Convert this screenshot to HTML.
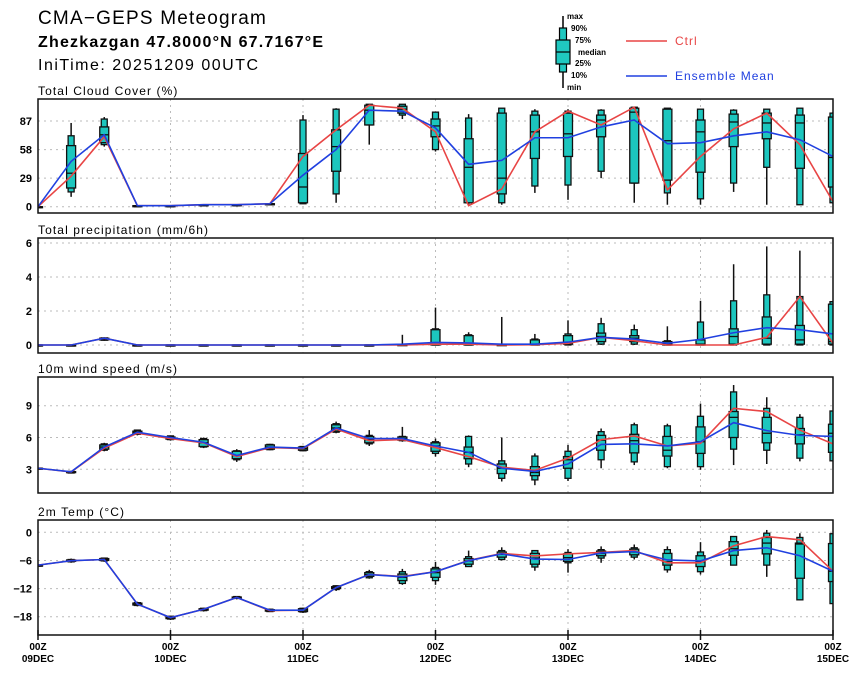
<!DOCTYPE html>
<html><head><meta charset="utf-8"><style>
body{margin:0;background:#fff;width:860px;height:673px;overflow:hidden}
svg{display:block;font-family:"Liberation Sans",sans-serif}
</style></head><body>
<svg id="chart" width="860" height="673">
<text x="38" y="24" font-size="19" letter-spacing="1.2">CMA−GEPS Meteogram</text>
<text x="38" y="47" font-size="16" font-weight="bold" letter-spacing="1.2">Zhezkazgan 47.8000°N 67.7167°E</text>
<text x="38" y="70" font-size="16" letter-spacing="1.5">IniTime: 20251209 00UTC</text>
<g font-size="8" font-weight="bold">
<line x1="563" y1="16" x2="563" y2="88" stroke="#000" stroke-width="1.5"/>
<rect x="559.5" y="28" width="7" height="44" fill="#20c8c0" stroke="#000" stroke-width="1.2"/>
<rect x="556" y="40" width="14" height="24" fill="#20c8c0" stroke="#000" stroke-width="1.2"/>
<line x1="556" y1="52" x2="570" y2="52" stroke="#000" stroke-width="1.2"/>
<text x="567" y="19">max</text><text x="571" y="31">90%</text><text x="575" y="43">75%</text>
<text x="578" y="55">median</text><text x="575" y="66">25%</text><text x="571" y="78">10%</text><text x="567" y="90">min</text>
</g>
<g><line x1="626" y1="41" x2="667" y2="41" stroke="#e84545" stroke-width="1.5"/><text x="675" y="45" font-size="12" letter-spacing="1" fill="#e84545">Ctrl</text></g>
<g><line x1="626" y1="76" x2="667" y2="76" stroke="#2040e0" stroke-width="1.5"/><text x="675" y="80" font-size="12" letter-spacing="1" fill="#2040e0">Ensemble Mean</text></g>
</svg>
<script>
const times=[...Array(25).keys()];
const dayLabels=["09DEC","10DEC","11DEC","12DEC","13DEC","14DEC","15DEC"];
const cloudMax=[0,85,91,1,1,2,2,3,93,100,104,104,96,94,100,99,99,99,101,100,99,99,99,100,96];
const cloudP90=[0,72,89,1,1,2,2,3,88,99,104,104,96,90,100,97,97,98,101,100,99,98,99,100,95];
const cloudP75=[0,62,81,1,1,2,2,3,54,78,103,102,89,69,95,93,95,93,100,99,88,94,95,93,91];
const cloudMed=[0,34,73,1,1,2,2,3,20,61,98,99,82,40,29,76,74,88,96,67,76,86,85,85,50];
const cloudP25=[0,19,65,1,1,2,2,3,4,36,83,95,71,4,13,49,51,71,24,27,35,61,69,39,20];
const cloudP10=[0,15,63,1,1,2,2,3,3,13,83,93,58,4,4,21,22,36,24,14,8,24,40,2,4];
const cloudMin=[0,10,61,1,1,2,2,3,3,4,63,89,56,2,2,14,7,29,4,2,2,15,2,2,3];
const cloudCtrl=[0,31,71,1,1,2,2,3,51,78,103,100,76,1,18,76,97,83,101,17,51,79,95,63,5];
const cloudMean=[0,46,73,1,1,2,2,3,32,58,98,97,80,43,47,70,70,81,88,64,65,72,76,68,51];
const precMax=[0,0,0.45,0,0,0,0,0,0,0,0,0.6,2.2,0.75,1.65,0.65,1.45,1.6,1.2,1.1,2.6,4.75,5.8,5.55,2.55];
const precP90=[0,0,0.42,0,0,0,0,0,0,0,0,0.05,0.95,0.6,0.05,0.35,0.65,1.25,0.9,0.25,1.35,2.6,2.95,2.85,2.55];
const precP75=[0,0,0.4,0,0,0,0,0,0,0,0,0.02,0.9,0.55,0.02,0.3,0.55,0.7,0.55,0.2,0.3,0.95,1.65,1.15,2.4];
const precMed=[0,0,0.35,0,0,0,0,0,0,0,0,0,0.05,0.05,0,0.05,0.15,0.5,0.4,0.05,0.05,0.5,0.4,0.3,0.2];
const precP25=[0,0,0.3,0,0,0,0,0,0,0,0,0,0,0,0,0,0.05,0.2,0.2,0,0,0.05,0.05,0.05,0.05];
const precP10=[0,0,0.28,0,0,0,0,0,0,0,0,0,0,0,0,0,0,0.05,0.05,0,0,0,0,0,0];
const precMin=[0,0,0.25,0,0,0,0,0,0,0,0,0,0,0,0,0,0,0,0,0,0,0,0,0,0];
const precCtrl=[0,0,0.4,0,0,0,0,0,0,0,0,0,0.05,0.05,0,0.02,0.1,0.45,0.25,0,0,0,0.45,2.85,0.1];
const precMean=[0,0,0.4,0,0,0,0,0,0,0,0,0.05,0.15,0.12,0.05,0.05,0.17,0.45,0.35,0.1,0.33,0.72,1.02,0.9,0.65];
const windMax=[3.15,2.85,5.5,6.75,6.2,6.0,4.9,5.4,5.2,7.5,6.7,7.0,5.9,6.2,6.0,4.5,5.3,6.85,7.4,7.3,9.2,10.95,9.8,8.2,8.5];
const windP90=[3.12,2.8,5.4,6.7,6.15,5.9,4.75,5.35,5.15,7.3,6.2,6.1,5.6,6.1,3.8,4.25,4.7,6.55,7.2,7.1,8.0,10.3,8.75,7.9,8.5];
const windP75=[3.1,2.78,5.3,6.6,6.05,5.8,4.7,5.3,5.1,7.2,6.1,6.05,5.5,5.1,3.5,3.25,4.2,6.2,6.3,6.1,7.0,8.45,7.9,6.85,7.25];
const windMed=[3.1,2.75,5.1,6.5,5.95,5.5,4.3,5.1,4.95,6.9,5.8,5.9,5.2,4.6,3.1,2.7,3.9,5.75,5.7,4.8,5.6,7.9,6.4,6.25,6.4];
const windP25=[3.08,2.7,4.9,6.35,5.85,5.15,4.0,4.9,4.8,6.6,5.5,5.75,4.7,4.0,2.6,2.4,3.1,4.8,4.55,4.25,4.5,6.0,5.5,5.4,4.6];
const windP10=[3.05,2.65,4.8,6.3,5.8,5.1,3.9,4.85,4.75,6.5,5.4,5.7,4.5,3.5,2.15,2.0,2.15,3.9,3.7,3.25,3.25,4.9,4.8,4.05,3.8];
const windMin=[3.0,2.6,4.7,6.2,5.7,5.0,3.7,4.8,4.7,6.4,5.2,5.6,4.2,3.2,1.85,1.5,1.9,3.1,3.4,3.1,2.95,3.4,3.5,3.75,3.8];
const windCtrl=[3.1,2.75,5.0,6.4,5.9,5.5,4.2,5.05,4.95,6.8,5.7,5.8,5.05,4.2,3.2,2.9,4.05,5.8,6.15,5.2,5.45,8.75,8.45,6.7,5.4];
const windMean=[3.1,2.77,5.1,6.5,6.0,5.55,4.3,5.1,5.0,6.9,5.9,5.9,5.2,4.6,3.1,2.8,3.5,5.35,5.4,5.2,5.6,7.4,6.65,6.2,6.1];
const tempMax=[-7,-5.6,-5.4,-14.8,-17.8,-16.1,-13.6,-16.3,-16.1,-11.3,-8.0,-7.8,-6.3,-3.9,-3.2,-3.9,-3.6,-3.0,-2.6,-3.0,-2.1,-0.8,0.5,-0.2,-0.3];
const tempP90=[-7,-5.8,-5.5,-15.0,-17.9,-16.2,-13.7,-16.4,-16.2,-11.4,-8.4,-8.4,-7.5,-5.2,-3.9,-3.9,-4.3,-3.7,-3.3,-3.7,-4.2,-0.9,-0.2,-1.1,-0.3];
const tempP75=[-7,-5.9,-5.6,-15.1,-18.0,-16.3,-13.8,-16.5,-16.3,-11.6,-8.6,-8.9,-7.8,-5.6,-4.2,-4.5,-4.6,-4.0,-3.6,-4.5,-5.0,-2.0,-1.1,-2.3,-2.4];
const tempMed=[-7,-6.05,-5.8,-15.3,-18.2,-16.4,-13.9,-16.6,-16.6,-11.8,-9.0,-9.6,-8.6,-6.1,-4.7,-5.5,-5.4,-4.5,-4.2,-6.3,-6.3,-3.5,-2.3,-2.5,-8.3];
const tempP25=[-7,-6.2,-6.0,-15.5,-18.4,-16.6,-14.0,-16.8,-16.9,-12.0,-9.4,-10.3,-9.6,-6.8,-5.3,-6.8,-6.2,-5.0,-4.8,-7.0,-7.3,-4.9,-4.6,-9.8,-10.5];
const tempP10=[-7,-6.3,-6.1,-15.6,-18.5,-16.7,-14.1,-16.9,-17.0,-12.2,-9.7,-10.9,-10.3,-7.3,-5.8,-7.4,-6.5,-5.5,-5.3,-8.0,-8.4,-7.0,-7.0,-14.4,-15.2];
const tempMin=[-7,-6.5,-6.3,-15.8,-18.7,-16.9,-14.3,-17.0,-17.2,-12.5,-9.9,-11.2,-11.2,-7.3,-6.0,-8.2,-8.6,-6.5,-5.8,-8.6,-9.0,-7.0,-9.5,-14.5,-15.2];
const tempCtrl=[-7.0,-6.05,-5.8,-15.3,-18.2,-16.4,-13.9,-16.7,-16.6,-11.8,-9.0,-9.4,-8.4,-6.0,-4.5,-5.05,-4.6,-4.3,-3.9,-6.5,-6.5,-2.9,-0.9,-1.6,-8.3];
const tempMean=[-7.0,-6.05,-5.8,-15.3,-18.2,-16.4,-13.9,-16.6,-16.6,-11.8,-9.0,-9.5,-8.4,-6.05,-4.6,-5.7,-5.8,-4.4,-4.1,-5.9,-6.1,-3.9,-3.3,-5.0,-8.3];
const cloudTicks=[0,29,58,87], precTicks=[0,2,4,6], windTicks=[3,6,9], tempTicks=[0,-6,-12,-18];

const NS="http://www.w3.org/2000/svg";
const svg=document.getElementById("chart");
const X0=38,X1=833;
const xs=i=>X0+(X1-X0)*i/24;
function mk(tag,attrs,parent){const e=document.createElementNS(NS,tag);for(const k in attrs)e.setAttribute(k,attrs[k]);(parent||svg).appendChild(e);return e;}
const panels=[
 {key:"cloud",title:"Total Cloud Cover (%)",top:99,bot:213,y0:206.7,k:0.985,ticks:cloudTicks,d:[cloudMax,cloudP90,cloudP75,cloudMed,cloudP25,cloudP10,cloudMin,cloudCtrl,cloudMean],base:0},
 {key:"precip",title:"Total precipitation (mm/6h)",top:238,bot:353,y0:345,k:17,ticks:precTicks,d:[precMax,precP90,precP75,precMed,precP25,precP10,precMin,precCtrl,precMean],base:0},
 {key:"wind",title:"10m wind speed (m/s)",top:377,bot:493,y0:469.3,k:10.6,ticks:windTicks,d:[windMax,windP90,windP75,windMed,windP25,windP10,windMin,windCtrl,windMean],base:3},
 {key:"temp",title:"2m Temp (°C)",top:520,bot:635,y0:532.3,k:4.69,ticks:tempTicks,d:[tempMax,tempP90,tempP75,tempMed,tempP25,tempP10,tempMin,tempCtrl,tempMean],base:0}
];
panels.forEach((p,pi)=>{
 const ys=v=>p.y0-(v-p.base)*p.k;
 const g=mk("g",{});
 
 
 const t=mk("text",{x:38,y:p.top-4,"font-size":12,"letter-spacing":1.1},g);t.textContent=p.title;
 
 
 const cp=mk("clipPath",{id:"clip"+pi},g);mk("rect",{x:X0,y:p.top,width:X1-X0,height:p.bot-p.top},cp);
 p.ticks.forEach(v=>{
  const y=ys(v);
  const gl=mk("line",{x1:X0,x2:X1,y1:y,y2:y,stroke:"#bbb","stroke-dasharray":"2,4","stroke-width":1},g);
  
  
  const tl=mk("text",{x:32,y:y+4,"font-size":11,"font-weight":"bold","text-anchor":"end"},g);tl.textContent=String(v).replace("-","−");
  
  
 });
 for(let dd=1;dd<6;dd++){const x=xs(dd*4);
  const vl=mk("line",{x1:x,x2:x,y1:p.top,y2:p.bot,stroke:"#bbb","stroke-dasharray":"2,4"},g);
  
  }
 const cg=mk("g",{"clip-path":"url(#clip"+pi+")"},g);
 const [mx,p90,p75,md,p25,p10,mn,ct,me]=p.d;
 times.forEach(i=>{
  const x=xs(i);
  const bg=mk("g",{},cg);
  
  
  mk("line",{x1:x,x2:x,y1:ys(mx[i]),y2:ys(mn[i]),stroke:"#111","stroke-width":1.5},bg);
  mk("rect",{x:x-3,y:ys(p90[i]),width:6,height:Math.max(ys(p10[i])-ys(p90[i]),1),fill:"#1cc6be",stroke:"#111","stroke-width":1.3},bg);
  mk("rect",{x:x-4.5,y:ys(p75[i]),width:9,height:Math.max(ys(p25[i])-ys(p75[i]),1),fill:"#1cc6be",stroke:"#111","stroke-width":1.3},bg);
  mk("line",{x1:x-4.5,x2:x+4.5,y1:ys(md[i]),y2:ys(md[i]),stroke:"#111","stroke-width":1.3},bg);
 });
 const l1=mk("polyline",{points:times.map(i=>xs(i)+","+ys(ct[i])).join(" "),fill:"none",stroke:"#e84545","stroke-width":1.6},cg);
 
 
 const l2=mk("polyline",{points:times.map(i=>xs(i)+","+ys(me[i])).join(" "),fill:"none",stroke:"#2040e0","stroke-width":1.6},cg);
 
 
 const fr=mk("rect",{x:X0,y:p.top,width:X1-X0,height:p.bot-p.top,fill:"none",stroke:"#111","stroke-width":1.5},g);
 
 
 if(pi===3){
  dayLabels.forEach((lb,dd)=>{const x=xs(dd*4);
   const tk=mk("line",{x1:x,x2:x,y1:p.bot-5,y2:p.bot+5,stroke:"#111","stroke-width":1.5},g);
   
   
   const a=mk("text",{x:x,y:p.bot+15,"font-size":10,"font-weight":"bold","text-anchor":"middle"},g);a.textContent="00Z";
   
   
   const b=mk("text",{x:x,y:p.bot+27,"font-size":10,"font-weight":"bold","text-anchor":"middle"},g);b.textContent=lb;
   
   
  });
 }
});
</script>
</body></html>
